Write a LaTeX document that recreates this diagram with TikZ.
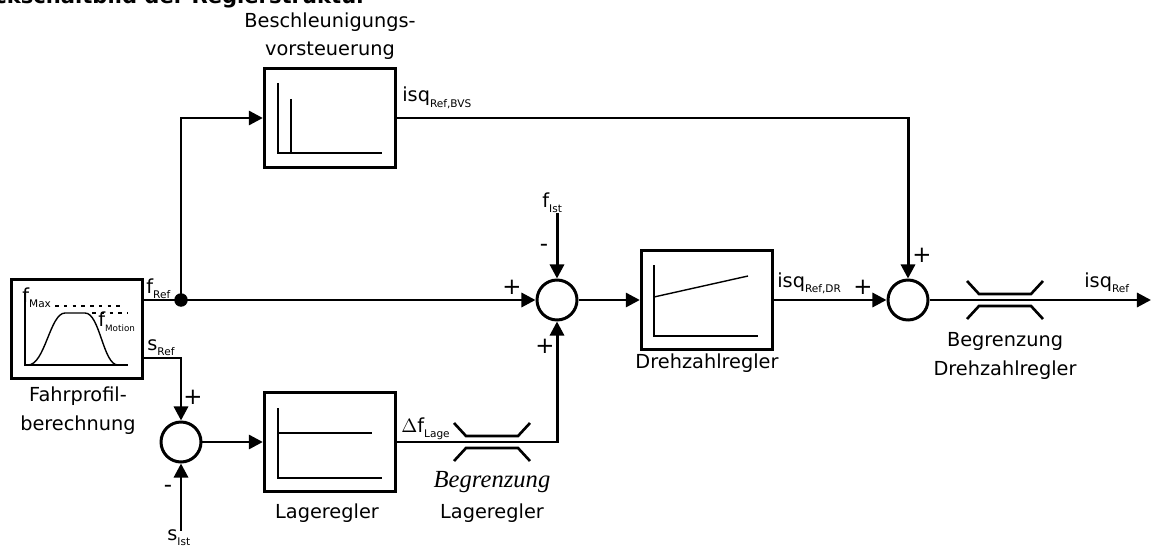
\documentclass[tikz,border=0pt]{standalone}
\usepackage{fontspec}
\setmainfont{DejaVu Sans}
\newfontfamily\timesfont{Liberation Serif}
\usetikzlibrary{arrows.meta, positioning, calc}

\newcommand{\sig}[2]{#1\raisebox{-0.5ex}{\fontsize{6}{7}\selectfont #2}}

\tikzset{
  limiter/.pic={
    \draw[line width=1.5pt] (-38,-19) -- (-26,-6) -- (26,-6) -- (38,-19);
    \draw[line width=1.5pt] (-38,19) -- (-26,6) -- (26,6) -- (38,19);
  }
}

\begin{document}
\begin{tikzpicture}[x=0.02cm, y=-0.02cm, font=\fontsize{11}{16}\selectfont,
  block/.style={draw, line width=1.9pt, minimum width=2.62cm,
    minimum height=1.97cm, inner sep=0pt},
  sumnode/.style={draw, circle, line width=1.7pt, minimum size=0.8cm, inner sep=0pt},
  sig/.style={-{Triangle[length=8pt,width=8pt]}, line width=1.7pt},
  plot/.style={line width=0.8pt},
  sgn/.style={inner sep=0pt, font=\fontsize{13}{13}\selectfont},
  lbl/.style={inner sep=0pt, anchor=base west}]
  \useasboundingbox (0,0) rectangle (1151,547);

  % title, cut at the top edge
  \node[anchor=base east, inner sep=0pt, font=\bfseries\fontsize{12}{14}\selectfont]
    (title) at (367,4) {Blockschaltbild der Reglerstruktur};

  % blocks
  \node[block] (fp)  at (77,329)  {};
  \node[block] (bvs) at (330,118) {};
  \node[block] (lr)  at (330,442) {};
  \node[block] (dr)  at (707,300) {};

  \node[sumnode] (sum1) at (181,442) {};
  \node[sumnode] (sum2) at (557,300) {};
  \node[sumnode] (sum3) at (908,300) {};
  \node[circle, fill, inner sep=0pt, minimum size=0.27cm] (jn) at (181,300) {};

  % block labels (base = last line)
  \node[align=center, inner sep=0pt, anchor=base] (fplbl) at (78,430)
    {Fahrprofil-\\berechnung};
  \node[align=center, inner sep=0pt, anchor=base] (bvslbl) at (330,56)
    {Beschleunigungs-\\vorsteuerung};
  \node[inner sep=0pt, anchor=base] (lrlbl) at (327,518) {Lageregler};
  \node[inner sep=0pt, anchor=base] (drlbl) at (707,368) {Drehzahlregler};

  % limiters
  \pic at (492,442) {limiter};
  \pic at (1005,300) {limiter};
  \node[inner sep=0pt, anchor=base, font=\timesfont\itshape\fontsize{14}{16}\selectfont]
    (lim1a) at (492,487) {Begrenzung};
  \node[inner sep=0pt, anchor=base] (lim1b) at (492,518) {Lageregler};
  \node[align=center, inner sep=0pt, anchor=base] (lim2lbl) at (1005,375)
    {Begrenzung\\Drehzahlregler};

  % drive profile inside fp
  \draw[plot] (25,293) -- (25,365) -- (128,365);
  \draw[plot] (28,365) .. controls (45,365) and (50,313) .. (65,313) -- (85,313)
    .. controls (100,313) and (103,365) .. (118,365);
  \draw[plot, dash pattern=on 2pt off 3pt] (55,306) -- (125,306);
  \draw[plot, dash pattern=on 2pt off 3pt] (92,313) -- (128,313);
  \node[lbl, font=\fontsize{11}{12}\selectfont] (fmax) at (22,302)
    {f\raisebox{-0.5ex}{\fontsize{6}{7}\selectfont Max}};
  \node[lbl, font=\fontsize{11}{12}\selectfont] (fmot) at (98,326)
    {f\raisebox{-0.5ex}{\fontsize{5}{6}\selectfont Motion}};

  % inner plots
  \draw[plot] (278,83) -- (278,153) -- (382,153);
  \draw[plot] (291,99) -- (291,153);
  \draw[plot] (278,408) -- (278,478) -- (382,478);
  \draw[plot] (278,433) -- (372,433);
  \draw[plot] (654,265) -- (654,336) -- (758,336);
  \draw[plot] (654,297) -- (748,276);

  % signals
  \coordinate (fref) at (142,300);
  \coordinate (sref) at (142,358);
  \coordinate (out) at (1151,300);
  \node[lbl] (freflbl) at (146,293) {\sig{f}{Ref}};
  \node[lbl] (sreflbl) at (147,350) {\sig{s}{Ref}};
  \node[lbl] (fist) at (542,207) {\sig{f}{Ist}};
  \node[lbl] (sist) at (167,540) {\sig{s}{Ist}};
  \node[lbl] (dflbl) at (401,432) {\sig{$\Delta$f}{Lage}};
  \node[lbl] (bvsout) at (402,102) {\sig{isq}{Ref,BVS}};
  \node[lbl] (drout) at (777,287) {\sig{isq}{Ref,DR}};
  \node[lbl] (isqref) at (1084,287) {\sig{isq}{Ref}};

  \draw[sig] (fref) -- (sum2.west);
  \draw[sig] (jn.center) |- (bvs.west);
  \draw[sig] (sref) -| (sum1.north);
  \draw[sig] ([yshift=-1pt]sum1 |- sist.north) -- (sum1.south);
  \draw[sig] (sum1) -- (lr);
  \draw[sig] (lr.east) -| (sum2.south);
  \draw[sig] (sum2 |- fist.south) -- (sum2.north);
  \draw[sig] (sum2) -- (dr);
  \draw[sig] (dr.east) -- (sum3.west);
  \draw[sig] (bvs.east) -| (sum3.north);
  \draw[sig] (sum3.east) -- (out);

  % signs
  \node[sgn] (p1) at (193,397) {+};
  \node[sgn] (m1) at (168,489) {-};
  \node[sgn] (m2) at (544,248) {-};
  \node[sgn] (p2) at (512,287) {+};
  \node[sgn] (p3) at (545,346) {+};
  \node[sgn] (p4) at (863,287) {+};
  \node[sgn] (p5) at (922,255) {+};
\end{tikzpicture}
\end{document}
